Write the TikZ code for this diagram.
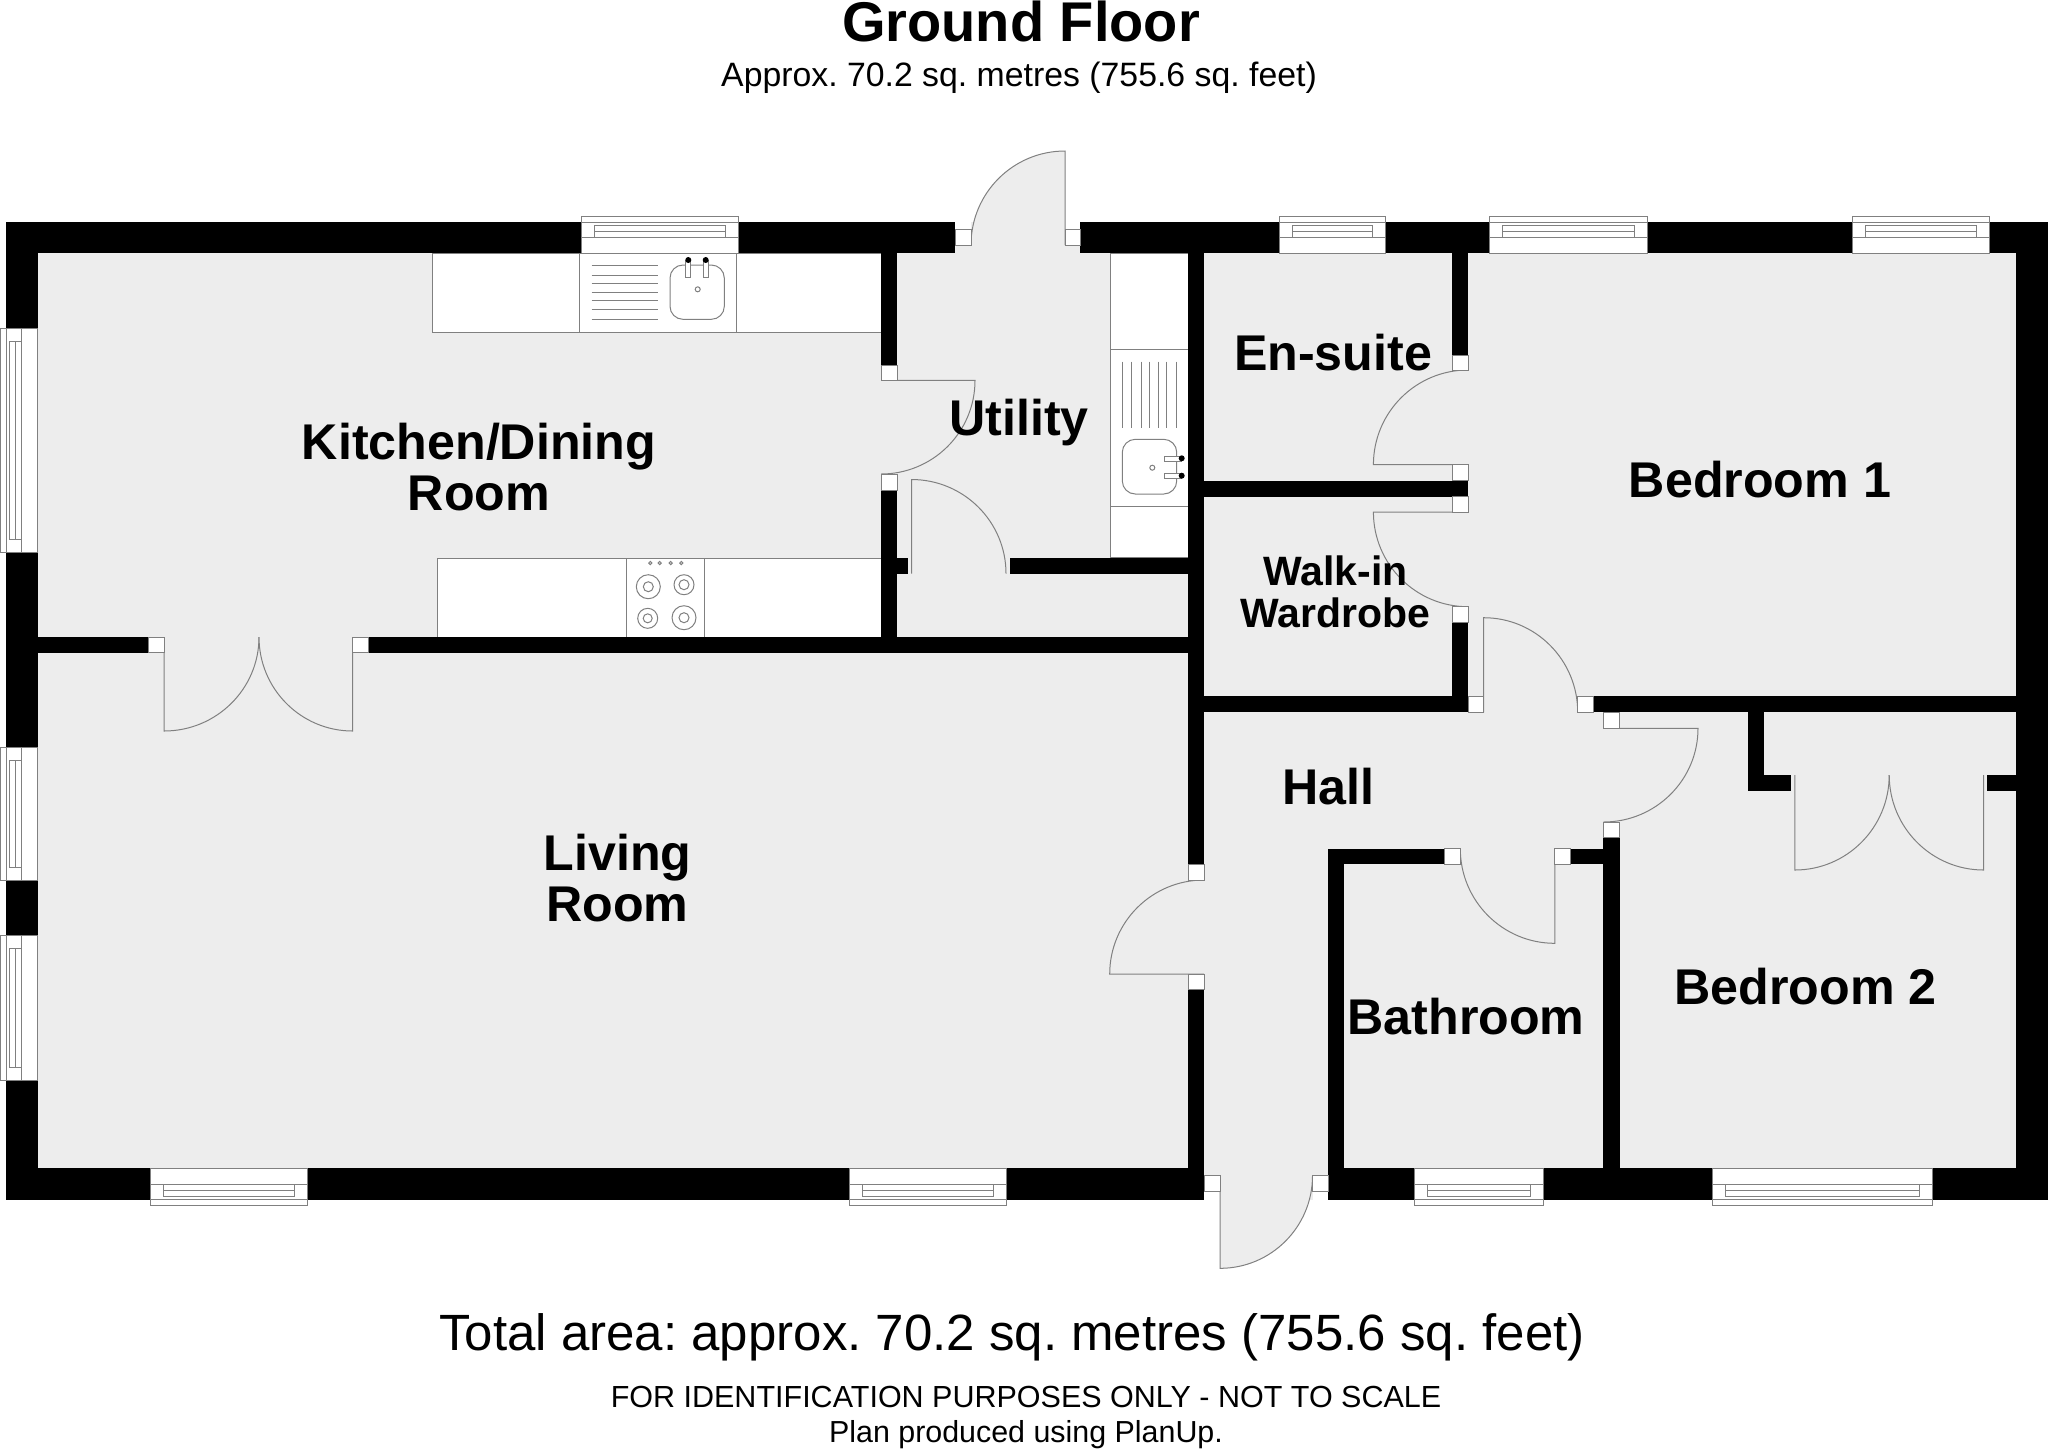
\documentclass[tikz,border=0pt]{standalone}
\usepackage{xcolor}
\usepackage{fontspec}
\setmainfont{Liberation Sans}
\usetikzlibrary{calc}
\frenchspacing

\definecolor{floorgrey}{HTML}{EDEDED}
\definecolor{linegrey}{HTML}{808080}

\newcommand{\planwindow}[2]{
	\begin{scope}[#1]
		\fill[white] (0,0) rectangle (#2,31);
		\draw[planline] (0,0) rectangle (#2,31);
		\draw[planline] (0,-6) rectangle (#2,15);
		\draw[planline] (13,3) rectangle ({#2-13},15);
		\draw[planline] (13,9) -- ({#2-13},9);
	\end{scope}
}
\newcommand{\planswing}[6]{
	\draw[planline, fill=floorgrey] (#1,#2) -- (#3,#4) .. controls ($(#3,#4)+0.5523*(#5,#6)-0.5523*(#1,#2)$) and ($(#5,#6)+0.5523*(#3,#4)-0.5523*(#1,#2)$) .. (#5,#6);
}

\begin{document}
\begin{tikzpicture}[
				x=0.5pt, y=-0.5pt,
				planline/.style={draw=linegrey, line width=0.5pt},
				wallblock/.style={fill=black},
				jambblock/.style={fill=white, draw=linegrey, line width=0.5pt},
				unitblock/.style={fill=white, draw=linegrey, line width=0.5pt},
				roomlabel/.style={font=\fontsize{25.1}{25.5}\selectfont\bfseries, align=center, inner sep=0pt},
				]
				\useasboundingbox (0,0) rectangle (2048,1448);

				%Floor
				\fill[floorgrey] (6,222) rectangle (2048,1199.5);

				%Units
				\draw[unitblock] (432,253) rectangle (881,332);
				\draw[unitblock] (579,253) rectangle (736,332);
				\draw[unitblock] (437.5,558) rectangle (881,637);
				\draw[unitblock] (626.5,558) rectangle (704.5,637);
				\draw[unitblock] (1110,253) rectangle (1188,557.5);
				\draw[planline] (1110,349) -- (1188,349);
				\draw[planline] (1110,506) -- (1188,506);

				%Kitchen sink
				\foreach \ya in {265.3,275,283,292.3,300.3,309.7,319}
					\draw[planline] (591.7,\ya) -- (658,\ya);
				\draw[planline, rounded corners=6.5pt] (670,265) rectangle (724.3,319.3);
				\draw[planline] (697.7,289.3) circle[radius=2.5];
				\draw[planline, fill=white] (685.7,260) rectangle (690.7,277.3);
				\draw[planline, fill=white] (703,260) rectangle (708.3,277.3);
				\fill (688.3,260) circle[radius=3];
				\fill (705.7,260) circle[radius=3];

				%Hob
				\foreach \xa in {650.3,659.7,670.7,681.3}
					\draw[planline] (\xa,563) circle[radius=1.6];
				\draw[planline] (648.3,586.7) circle[radius=12] circle[radius=5];
				\draw[planline] (684,584.7) circle[radius=10] circle[radius=5];
				\draw[planline] (647.7,618.3) circle[radius=10] circle[radius=4.5];
				\draw[planline] (684,617.7) circle[radius=12] circle[radius=5];

				%Utility sink
				\foreach \xa in {1122.3,1131.7,1141,1149.3,1158.7,1166.3,1176}
					\draw[planline] (\xa,361.7) -- (\xa,427.7);
				\draw[planline, rounded corners=6.5pt] (1122.3,439.3) rectangle (1176.7,494);
				\draw[planline] (1152.3,467.7) circle[radius=2.5];
				\draw[planline, fill=white] (1164.7,456) rectangle (1181.7,461);
				\draw[planline, fill=white] (1164.7,473) rectangle (1181.7,478);
				\fill (1181.7,458.3) circle[radius=3];
				\fill (1181.7,475.7) circle[radius=3];

				%Outer walls
				\fill[wallblock] (6,222) rectangle (955,253);
				\fill[wallblock] (1080,222) rectangle (2048,253);
				\fill[wallblock] (6,1167.5) rectangle (1204,1199.5);
				\fill[wallblock] (1328,1167.5) rectangle (2048,1199.5);
				\fill[wallblock] (6,222) rectangle (38,1199.5);
				\fill[wallblock] (2016,222) rectangle (2048,1199.5);

				%Inner walls
				\fill[wallblock] (881,253) rectangle (897,365.5);
				\fill[wallblock] (881,490.7) rectangle (897,637);
				\fill[wallblock] (897,558) rectangle (907.6,574);
				\fill[wallblock] (1009.5,557.5) rectangle (1188,574);
				\fill[wallblock] (38,637) rectangle (148.6,652.8);
				\fill[wallblock] (368.6,637) rectangle (1204,652.8);
				\fill[wallblock] (1188,253) rectangle (1204,864.3);
				\fill[wallblock] (1188,989.7) rectangle (1204,1167.5);
				\fill[wallblock] (1452,253) rectangle (1468,355);
				\fill[wallblock] (1204,480.7) rectangle (1468,496.7);
				\fill[wallblock] (1452,622.3) rectangle (1468,712.3);
				\fill[wallblock] (1204,696.3) rectangle (1468,712.3);
				\fill[wallblock] (1593.4,696.3) rectangle (2016,712.3);
				\fill[wallblock] (1747.5,712) rectangle (1763.7,791);
				\fill[wallblock] (1747.5,775) rectangle (1791.4,791);
				\fill[wallblock] (1987,775) rectangle (2016,791);
				\fill[wallblock] (1603.4,837.7) rectangle (1619.7,1167.5);
				\fill[wallblock] (1328,848.7) rectangle (1344,1167.5);
				\fill[wallblock] (1328,848.7) rectangle (1444.6,864.3);
				\fill[wallblock] (1570,848.7) rectangle (1603.4,864.3);

				%Door openings
				\fill[white] (955,222) rectangle (971,229);
				\fill[white] (1065,222) rectangle (1080,229);
				\fill[white] (1204,1191) rectangle (1220,1199.5);
				\fill[white] (1312.5,1191) rectangle (1328,1199.5);

				%Doors
				\planswing{1065}{245}{1065}{151}{971}{245}
				\planswing{881}{380.4}{975}{380.4}{881}{474}
				\planswing{911.5}{573.6}{911.5}{479.5}{1006}{573.6}
				\planswing{164}{637}{164}{731}{259}{637}
				\planswing{352.7}{637}{352.7}{731}{259}{637}
				\planswing{1468}{464.7}{1373.4}{464.7}{1468}{370}
				\planswing{1468}{512}{1373.4}{512}{1468}{606.7}
				\planswing{1483.7}{712.3}{1483.7}{617.7}{1577.7}{712.3}
				\planswing{1603.4}{728.3}{1698}{728.3}{1603.4}{822}
				\planswing{1794.8}{775}{1794.8}{870}{1889.2}{775}
				\planswing{1983.7}{775}{1983.7}{870}{1889.2}{775}
				\planswing{1554.8}{848.7}{1554.8}{943.3}{1460.3}{848.7}
				\planswing{1204}{974}{1109.7}{974}{1204}{880}
				\planswing{1220}{1175.7}{1220}{1268.3}{1312.5}{1175.7}

				%Jambs
				\draw[jambblock] (955,229) rectangle (971,245);
				\draw[jambblock] (1065,229) rectangle (1080,245);
				\draw[jambblock] (1204,1175.7) rectangle (1220,1191);
				\draw[jambblock] (1312.5,1175.7) rectangle (1328,1191);
				\draw[jambblock] (881,365.5) rectangle (897,380.4);
				\draw[jambblock] (881,474) rectangle (897,490.7);
				\draw[jambblock] (148.6,637) rectangle (164,652.8);
				\draw[jambblock] (352.7,637) rectangle (368.6,652.8);
				\draw[jambblock] (1188,864.3) rectangle (1204,880);
				\draw[jambblock] (1188,974) rectangle (1204,989.7);
				\draw[jambblock] (1452,355) rectangle (1468,370);
				\draw[jambblock] (1452,464.7) rectangle (1468,480.7);
				\draw[jambblock] (1452,496.7) rectangle (1468,512);
				\draw[jambblock] (1452,606.7) rectangle (1468,622.3);
				\draw[jambblock] (1468,696.3) rectangle (1483.7,712.3);
				\draw[jambblock] (1577.7,696.3) rectangle (1593.4,712.3);
				\draw[jambblock] (1603.4,712.3) rectangle (1619.7,728.3);
				\draw[jambblock] (1603.4,822) rectangle (1619.7,837.7);
				\draw[jambblock] (1444.6,848.7) rectangle (1460.3,864.3);
				\draw[jambblock] (1554.8,848.7) rectangle (1570,864.3);

				%Windows
				\planwindow{shift={(581,222)}}{157}
				\planwindow{shift={(1279,222)}}{106.6}
				\planwindow{shift={(1489.7,222)}}{157.3}
				\planwindow{shift={(1852,222)}}{137}
				\planwindow{shift={(150,1199.5)},yscale=-1}{157}
				\planwindow{shift={(849,1199.5)},yscale=-1}{157}
				\planwindow{shift={(1414.7,1199.5)},yscale=-1}{128.6}
				\planwindow{shift={(1712,1199.5)},yscale=-1}{220}
				\planwindow{cm={0,-1,-1,0,(6,328)}}{224}
				\planwindow{cm={0,-1,-1,0,(6,747)}}{133}
				\planwindow{cm={0,-1,-1,0,(6,935)}}{145}

				%Nodes
				\node[roomlabel] (kitchen) at (479,467) {Kitchen/Dining\\Room};
				\node[roomlabel] (living) at (617.5,878) {Living\\Room};
				\node[roomlabel] (utility) at (1019,423) {Utility};
				\node[roomlabel] (ensuite) at (1333,353) {En-suite};
				\node[roomlabel] (bedroomone) at (1760,480) {Bedroom 1};
				\node[roomlabel, font=\fontsize{20.5}{21}\selectfont\bfseries] (wardrobe) at (1335.5,592) {Walk-in\\Wardrobe};
				\node[roomlabel] (hall) at (1328.5,787) {Hall};
				\node[roomlabel] (bathroom) at (1466,1017) {Bathroom};
				\node[roomlabel] (bedroomtwo) at (1805.5,987) {Bedroom 2};

				\node[font=\fontsize{28}{30}\selectfont\bfseries, inner sep=0pt] (title) at (1021,21) {Ground Floor};
				\node[font=\fontsize{16.9}{18}\selectfont, inner sep=0pt] (subtitle) at (1019,78) {Approx. 70.2 sq. metres (755.6 sq. feet)};
				\node[font=\fontsize{25.5}{28}\selectfont, inner sep=0pt] (total) at (1012,1337) {Total area: approx. 70.2 sq. metres (755.6 sq. feet)};
				\node[font=\fontsize{15.25}{17}\selectfont, inner sep=0pt] (notice) at (1026,1397) {FOR IDENTIFICATION PURPOSES ONLY - NOT TO SCALE};
				\node[font=\fontsize{15.2}{17}\selectfont, inner sep=0pt] (credit) at (1026,1435) {Plan produced using PlanUp.};

			\end{tikzpicture}
\end{document}
